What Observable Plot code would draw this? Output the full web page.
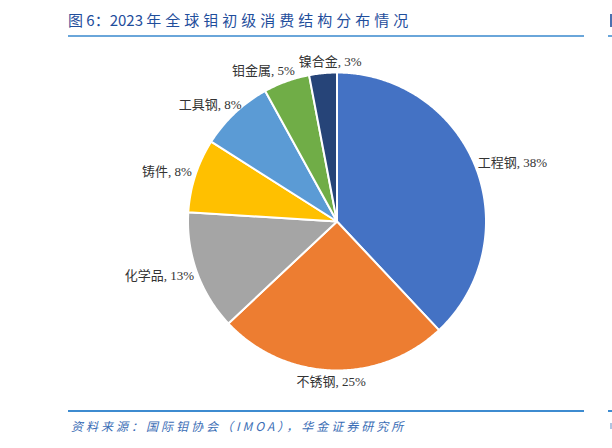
<!DOCTYPE html>
<html><head><meta charset="utf-8">
<script src="https://cdn.jsdelivr.net/npm/d3@7"></script>
<script src="https://cdn.jsdelivr.net/npm/@observablehq/plot@0.6"></script>
<style>
body{margin:0;background:#fff;}
#page{position:relative;width:612px;height:448px;overflow:hidden;background:#fff;}
.title{position:absolute;left:68px;top:9px;font-family:"Noto Sans CJK SC","Noto Sans";font-size:15px;line-height:22px;color:#1f4e9c;white-space:nowrap;}
.title .cjk{letter-spacing:4px;}
.rule{position:absolute;height:2px;}
.caption{position:absolute;left:71px;top:417px;font-family:"Noto Sans CJK SC","Noto Sans";font-size:12px;line-height:18px;color:#3a6db5;font-style:italic;letter-spacing:3px;white-space:nowrap;}
#chart{position:absolute;left:0;top:40px;}
</style></head>
<body><div id="page">
<div class="title">图 6：2023 <span class="cjk">年全球钼初级消费结构分布情况</span></div>
<div class="rule" style="left:68px;top:35px;width:516px;background:#6aa6da;"></div>
<div class="rule" style="left:608px;top:35px;width:10px;background:#6aa6da;"></div>
<div style="position:absolute;left:610px;top:14px;width:2px;height:13px;background:#1f4e9c;opacity:0.8;"></div>
<div class="rule" style="left:68px;top:410px;width:516px;background:#3d8bd0;"></div>
<div class="rule" style="left:608px;top:410px;width:10px;background:#3d8bd0;"></div>
<div style="position:absolute;left:610px;top:423px;width:2px;height:6px;background:#3a6db5;opacity:0.4;"></div>
<div class="caption">资料来源：国际钼协会（IMOA），华金证券研究所</div>
<div id="chart"></div>
</div>
<script>
const categories = ["工程钢","不锈钢","化学品","铸件","工具钢","钼金属","镍合金"];
const shares = [38,25,13,8,8,5,3];
const colors = ["#4472C4","#ED7D31","#A5A5A5","#FFC000","#5B9BD5","#70AD47","#264478"];

const W = 612, H = 364, R = 149, CX = 336.5, CY = 181;
const labelFont = "13px 'Liberation Serif', 'Noto Sans CJK SC'";
const total = d3.sum(shares);

// slice polygons in unit data space (angle clockwise from top)
const poly = [];
const slices = [];
let cum = 0;
categories.forEach((name, i) => {
  const a0 = cum / total * 2 * Math.PI;
  cum += shares[i];
  const a1 = cum / total * 2 * Math.PI;
  slices.push({name, share: shares[i], a0, a1});
  const n = Math.max(2, Math.ceil((a1 - a0) / (Math.PI / 360)));
  poly.push({name, x: 0, y: 0});
  for (let k = 0; k <= n; k++) {
    const a = a0 + (a1 - a0) * k / n;
    poly.push({name, x: Math.sin(a), y: Math.cos(a)});
  }
  poly.push({name, x: 0, y: 0});
});

// labels: outside end, measured widths, simple overlap push
const ctx = document.createElement("canvas").getContext("2d");
ctx.font = labelFont;
const gap = 5, lh = 13;
const labels = slices.map(s => {
  const text = `${s.name}, ${s.share}%`;
  const w = ctx.measureText(text).width;
  const m = (s.a0 + s.a1) / 2;
  const sx = Math.sin(m), cy = Math.cos(m);
  const px = sx * (R + gap) + sx * w / 2;
  const py = -cy * (R + gap) - cy * lh / 2; // pixel space, y down
  return {text, w, px, py};
});
for (let iter = 0; iter < 10; iter++) {
  for (let i = 0; i < labels.length; i++) {
    const a = labels[i], b = labels[(i + 1) % labels.length];
    const ox = Math.min(a.px + a.w/2, b.px + b.w/2) - Math.max(a.px - a.w/2, b.px - b.w/2) + 4;
    const oy = lh + 2 - Math.abs(a.py - b.py);
    if (ox > 0 && oy > 0) {
      const [l, r] = a.px < b.px ? [a, b] : [b, a];
      l.px -= ox / 2; r.px += ox / 2;
    }
  }
}
labels.forEach(l => { l.x = l.px / R; l.y = -l.py / R; });

const chart = Plot.plot({
  width: W, height: H,
  marginLeft: CX - R, marginRight: W - CX - R,
  marginTop: CY - R, marginBottom: H - CY - R,
  x: {domain: [-1, 1], axis: null},
  y: {domain: [-1, 1], axis: null},
  color: {domain: categories, range: colors},
  style: {overflow: "visible", background: "transparent"},
  marks: [
    Plot.line(poly, {x: "x", y: "y", z: "name", fill: "name", stroke: "white", strokeWidth: 2, strokeLinejoin: "round"}),
    Plot.text(labels, {x: "x", y: "y", text: "text", textAnchor: "middle", lineAnchor: "middle",
      fontSize: 13, fontFamily: "'Liberation Serif', 'Noto Sans CJK SC'", fill: "#333333"})
  ]
});
document.getElementById("chart").appendChild(chart);
</script>
</body></html>
